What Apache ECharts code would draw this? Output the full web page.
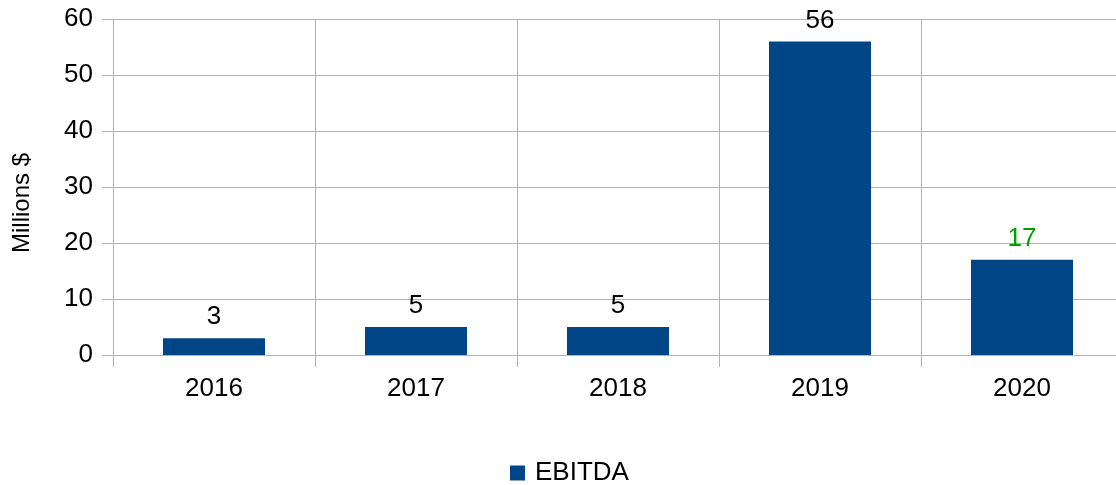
<!DOCTYPE html>
<html>
<head>
<meta charset="utf-8">
<script src="https://cdn.jsdelivr.net/npm/echarts@6/dist/echarts.min.js"></script>
<style>
  html, body { margin: 0; padding: 0; background: #fff; overflow: hidden; }
  /* plot runs past the right edge in the original, so the canvas is a bit wider than the window */
  #chart { width: 1124px; height: 485px; }
</style>
</head>
<body>
<div id="chart"></div>
<script>
var years = ['2016', '2017', '2018', '2019', '2020'];
var ebitda = [3, 5, 5, 56, 17];
var labelColors = ['#000000', '#000000', '#000000', '#000000', '#00a000'];
var yTicks = [0, 10, 20, 30, 40, 50, 60];

var font = '"Liberation Sans", Arial, sans-serif';

var barData = ebitda.map(function (v, i) {
    return { value: v, label: { color: labelColors[i] } };
});

var options = {
    animation: false,
    textStyle: { fontFamily: font },
    grid: {
        left: 113,
        top: 19,
        width: 1010,
        height: 336,
        containLabel: false,
        outerBoundsMode: 'none'
    },
    legend: {
        top: 460,
        left: 510,
        padding: 0,
        itemWidth: 15,
        itemHeight: 15,
        icon: 'rect',
        textStyle: { fontSize: 26, color: '#000', fontFamily: font, padding: [0, 0, 0, 5] },
        data: ['EBITDA']
    },
    xAxis: {
        type: 'category',
        data: years,
        axisLine: { show: true, lineStyle: { color: '#b3b3b3', width: 1 } },
        axisTick: { show: true, length: 12, lineStyle: { color: '#b3b3b3' } },
        axisLabel: { fontSize: 26, color: '#000', margin: 21, fontFamily: font },
        splitLine: { show: true, lineStyle: { color: '#b3b3b3', width: 1 } }
    },
    yAxis: {
        type: 'value',
        min: yTicks[0],
        max: yTicks[yTicks.length - 1],
        interval: 10,
        name: 'Millions $',
        nameLocation: 'center',
        nameGap: 79,
        nameRotate: 90,
        // title sits a little below the middle of the axis
        nameTextStyle: { fontSize: 24, color: '#000', fontFamily: font, padding: [0, 32, 0, 0] },
        axisLine: { show: true, lineStyle: { color: '#b3b3b3', width: 1 } },
        axisTick: { show: true, length: 11, lineStyle: { color: '#b3b3b3' } },
        axisLabel: { fontSize: 26, color: '#000', margin: 20, fontFamily: font },
        splitLine: { show: true, lineStyle: { color: '#b3b3b3', width: 1 } }
    },
    series: [
        {
            name: 'EBITDA',
            type: 'bar',
            barWidth: '50.5%',
            itemStyle: { color: '#004586' },
            label: {
                show: true,
                position: 'top',
                distance: 8,
                fontSize: 26,
                fontFamily: font
            },
            data: barData
        }
    ]
};

var myChart = echarts.init(document.getElementById('chart'));
myChart.setOption(options);
</script>
</body>
</html>
